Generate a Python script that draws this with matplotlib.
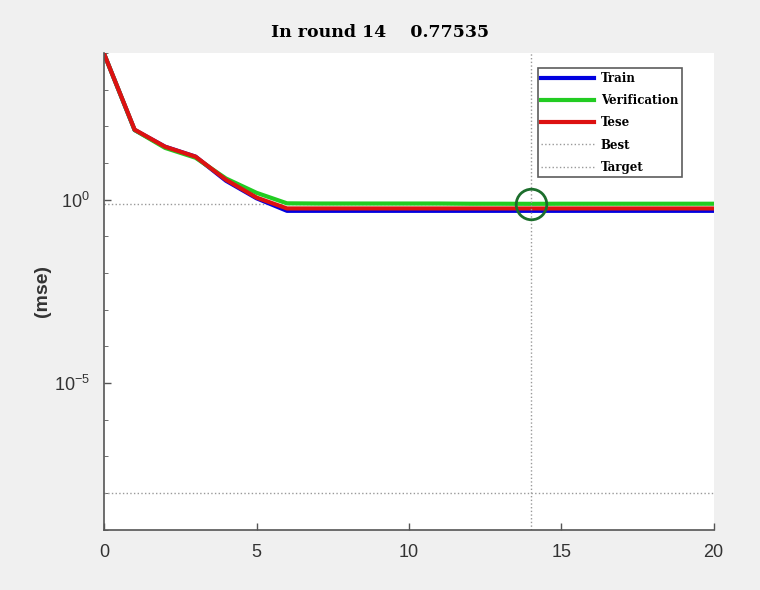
import matplotlib
matplotlib.use("Agg")
import matplotlib.pyplot as plt
from matplotlib.ticker import NullFormatter, FixedLocator

# Performance per epoch (log scale)
epochs = [0, 1, 2, 3, 4, 5, 6, 7, 8, 9, 10, 11, 12, 13, 14, 15, 16, 17, 18, 19, 20]
train_mse = [9500, 80, 28, 15, 3.3, 1.1, 0.50, 0.50, 0.50, 0.50, 0.50, 0.50, 0.50, 0.50,
             0.50, 0.50, 0.50, 0.50, 0.50, 0.50, 0.50]
valid_mse = [9500, 80, 26, 14, 3.8, 1.55, 0.80, 0.79, 0.79, 0.79, 0.79, 0.79, 0.78, 0.78,
             0.77535, 0.78, 0.78, 0.78, 0.78, 0.78, 0.78]
test_mse = [9500, 82, 28, 15, 3.5, 1.15, 0.58, 0.58, 0.58, 0.58, 0.58, 0.58, 0.58, 0.58,
            0.58, 0.58, 0.58, 0.58, 0.58, 0.58, 0.58]
best_epoch = 14
best_value = 0.77535
target_value = 1e-8

plt.rcParams["mathtext.fontset"] = "custom"
plt.rcParams["mathtext.rm"] = "Liberation Sans"
plt.rcParams["mathtext.it"] = "Liberation Sans"

fig = plt.figure(figsize=(7.6, 5.9), dpi=100, facecolor="#f0f0f0")
ax = fig.add_axes([0.137, 0.102, 0.802, 0.808])
ax.set_facecolor("white")

ax.plot(epochs, train_mse, color="#0000e0", linewidth=3, label="Train")
ax.plot(epochs, valid_mse, color="#22cc22", linewidth=3, label="Verification")
ax.plot(epochs, test_mse, color="#dd1111", linewidth=3, label="Tese")
ax.axvline(best_epoch, color="#999999", linestyle=":", linewidth=1, label="Best")
ax.axhline(best_value, color="#999999", linestyle=":", linewidth=1, zorder=0)
ax.axhline(target_value, color="#999999", linestyle=":", linewidth=1, label="Target")
ax.plot([best_epoch], [best_value], marker="o", markersize=22, markerfacecolor="none",
        markeredgecolor="#1c6e2c", markeredgewidth=2)

ax.set_yscale("log")
ax.set_xlim(0, 20)
ax.set_ylim(1e-9, 1e4)
ax.set_xticks([0, 5, 10, 15, 20])
ax.yaxis.set_major_locator(FixedLocator([1e-5, 1e0]))
ax.yaxis.set_minor_locator(FixedLocator([10.0 ** k for k in range(-9, 5)]))
ax.yaxis.set_minor_formatter(NullFormatter())
ax.tick_params(direction="in", length=5, width=1, color="#555555",
               labelsize=13, labelcolor="#333333", pad=10)
ax.tick_params(which="minor", direction="in", length=3, color="#555555")
for lbl in ax.get_xticklabels() + ax.get_yticklabels():
    lbl.set_family("Liberation Sans")

for side in ("top", "right"):
    ax.spines[side].set_visible(False)
for side in ("left", "bottom"):
    ax.spines[side].set_color("#555555")
    ax.spines[side].set_linewidth(1.2)

ax.set_ylabel("(mse)", fontsize=14, fontweight="bold", family="Liberation Sans",
              color="#333333", labelpad=2)
fig.suptitle("In round 14    0.77535", x=0.5, y=0.96, fontsize=12.5, fontweight="bold",
             family="DejaVu Serif")

leg = ax.legend(loc="upper right", bbox_to_anchor=(0.9475, 0.968), borderaxespad=0,
                prop={"family": "DejaVu Serif", "weight": "bold", "size": 8.5},
                frameon=True, fancybox=False, edgecolor="#333333",
                handlelength=4.5, handletextpad=0.55, labelspacing=0.78, borderpad=0.3)
leg.get_frame().set_linewidth(1.2)

fig.savefig("out.png", dpi=100, facecolor=fig.get_facecolor())
